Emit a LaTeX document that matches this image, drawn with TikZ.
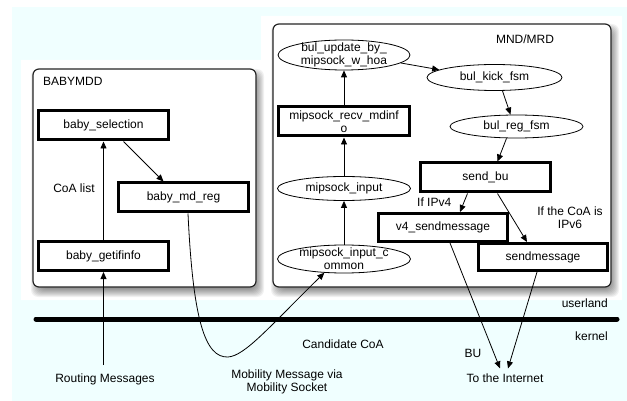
\documentclass[tikz,border=0pt]{standalone}
\usepackage{fontspec}
\setmainfont{Liberation Sans}
\usetikzlibrary{shapes.geometric,arrows.meta}
\definecolor{bgcyan}{RGB}{240,255,255}
\begin{document}
\begin{tikzpicture}[x=1pt,y=-1pt,
  every node/.style={font=\fontsize{12}{13}\selectfont},
  container/.style={draw=black!85, line width=1.2pt, rounded corners=6pt, fill=white},
  fnbox/.style={draw, fill=white, line width=3pt, minimum width=130pt, minimum height=29pt,
    inner sep=1pt, align=center},
  fnoval/.style={ellipse, draw, fill=white, line width=0.8pt, inner sep=0pt, align=center},
  ovaltext/.style={inner sep=0pt, align=center},
  flow/.style={-{Triangle[length=7pt,width=6pt]}, line width=0.8pt},
  lbl/.style={inner sep=1pt, align=center},
  kernelline/.style={line width=5pt, line cap=round}]
\useasboundingbox (0,0) rectangle (627,401);

% page background and the white panel behind both processes
\fill[bgcyan] (12,7) rectangle (627,401);
\fill[white] (21,60) -- (261,60) -- (261,16) -- (622,16) -- (622,300) -- (21,300) -- cycle;

% soft shadows under the two process boxes
\foreach \e in {-5,...,5} {
  \fill[black, opacity=0.055, rounded corners=7pt]
    ({33+3-\e},{69+5-\e}) rectangle ({256+3+\e},{287+5+\e});
  \fill[black, opacity=0.055, rounded corners=7pt]
    ({273+3-\e},{24+5-\e}) rectangle ({611+3+\e},{287+5+\e});
}

% process boxes
\draw[container] (33,69) rectangle (256,287);
\draw[container] (273,24) rectangle (611,287);
\node[lbl, anchor=west] (tbaby) at (42,81) {BABYMDD};
\node[lbl] (tmnd) at (525,39) {MND/MRD};

% BABYMDD functions
\node[fnbox] (sel) at (103.5,125.5) {baby\_selection};
\node[fnbox] (mdreg) at (183.5,197.5) {baby\_md\_reg};
\node[fnbox] (getif) at (103.5,256) {baby\_getifinfo};
\node[lbl] (coalist) at (74,188) {CoA list};

% MND/MRD functions
\node[fnoval, minimum width=132pt, minimum height=30pt] (bupd) at (344,55) {};
\node[ovaltext] at (bupd.center) {bul\_update\_by\_\\mipsock\_w\_hoa};
\node[fnoval, minimum width=135pt, minimum height=26pt] (kick) at (494.5,77.5) {bul\_kick\_fsm};
\node[fnbox, minimum width=131pt] (mrm) at (344,121.5) {mipsock\_recv\_mdinf\\o};
\node[fnoval, minimum width=133pt, minimum height=23pt] (reg) at (516.5,126.5) {bul\_reg\_fsm};
\node[fnbox] (sb) at (485.5,177.5) {send\_bu};
\node[fnoval, minimum width=133pt, minimum height=24pt] (mi) at (344,188.5) {mipsock\_input};
\node[fnbox, minimum width=129pt, minimum height=28pt] (v4) at (443,227.5) {v4\_sendmessage};
\node[fnbox, minimum width=129pt, minimum height=27pt] (sm) at (543,257) {sendmessage};
\node[fnoval, minimum width=133pt, minimum height=28pt] (mic) at (344,259) {};
\node[ovaltext] at (mic.center) {mipsock\_input\_c\\ommon};

\node[lbl, anchor=west] (ifv4) at (416,202) {If IPv4};
\node[lbl] (ifv6) at (570,218) {If the CoA is\\IPv6};

% userland / kernel boundary
\draw[kernelline] (36,319) -- (617,319);
\node[lbl, anchor=east] (user) at (609,303) {userland};
\node[lbl, anchor=east] (kern) at (609,336) {kernel};

% outside labels
\node[lbl] (rm) at (105,379) {Routing Messages};
\node[lbl] (mob) at (287,382) {Mobility Message via\\Mobility Socket};
\node[lbl] (cand) at (343,344) {Candidate CoA};
\node[lbl] (bul) at (473,353) {BU};
\node[lbl] (inet) at (505,378) {To the Internet};

% BABYMDD flow
\draw[flow] ([yshift=7pt]rm.north -| getif.south) -- (getif.south);
\draw[flow] (getif.north) -- (sel.south);
\draw[flow] ([xshift=20pt]sel.south) -- ([xshift=-20pt]mdreg.north);

% mobility message through the kernel socket
\coordinate (dip) at (228,357);
\draw[flow] ([xshift=4.5pt]mdreg.south) .. controls (193,320) and (205,358) .. (dip)
  .. controls (245,356) and (270,326) .. (mic.215);

% MND/MRD flow
\draw[flow] (mic.north) -- (mi.south);
\draw[flow] (mi.north) -- (mrm.south);
\draw[flow] (mrm.north) -- (bupd.south);
\draw[flow] (bupd.-8) -- (kick.172);
\draw[flow] ([xshift=8pt]kick.south) -- ([xshift=-6pt]reg.north);
\draw[flow] ([xshift=-10pt]reg.south) -- ([xshift=12pt]sb.north);
\draw[flow] ([xshift=-18pt]sb.south) -- ([xshift=17pt]v4.north);
\draw[flow] ([xshift=12pt]sb.south) -- ([xshift=-16pt]sm.north);
\draw[flow] ([xshift=7pt]v4.south) -- ([xshift=-5pt,yshift=4pt]inet.north);
\draw[flow] ([xshift=-6pt]sm.south) -- ([xshift=3pt,yshift=4pt]inet.north);
\end{tikzpicture}
\end{document}
